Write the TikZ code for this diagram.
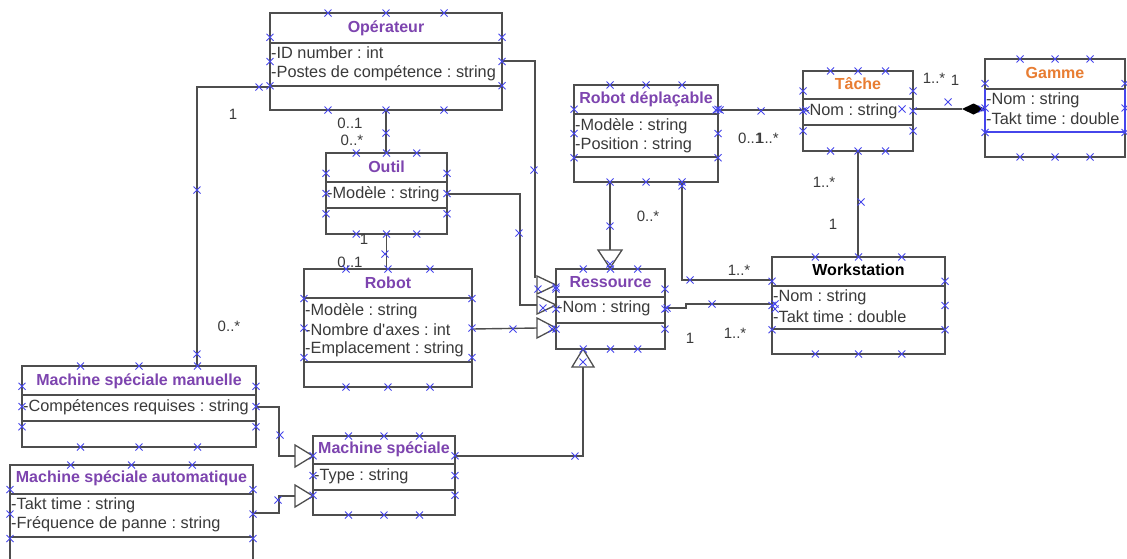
\documentclass[tikz,border=0pt]{standalone}
\usepackage{fontspec}
\setmainfont{Liberation Sans}
\definecolor{lc}{RGB}{78,78,78}
\definecolor{tc}{RGB}{58,58,58}
\definecolor{purp}{RGB}{125,68,175}
\definecolor{orng}{RGB}{232,125,50}
\definecolor{hb}{RGB}{70,70,235}
\tikzset{
  cbox/.style={draw=lc, line width=1.5pt, fill=white, rectangle, inner sep=0pt, outer sep=0pt},
  cline/.style={draw=lc, line width=1.5pt},
  conn/.style={draw=lc, line width=1.4pt},
  tri/.style={draw=lc, line width=1.3pt, fill=white},
  ttl/.style={font=\bfseries\fontsize{16}{18}\selectfont, text=purp, inner sep=0pt},
  attr/.style={font=\fontsize{16.3}{18}\selectfont, text=tc, anchor=west, inner sep=0pt},
  lbl/.style={font=\fontsize{15}{17}\selectfont, text=tc, inner sep=0pt},
  hx/.pic={\draw[hb, line width=0.85pt] (-3.5pt,-3.5pt) -- (3.5pt,3.5pt) (-3.5pt,3.5pt) -- (3.5pt,-3.5pt);}
}
\newcommand{\umlclass}[7]{%
  \node[cbox, minimum width={(#4-#2)*1pt}, minimum height={(#5-#3)*1pt}] (#1) at ({(#2+#4)/2},{(#3+#5)/2}) {};
  \draw[cline] (#2,#6) -- (#4,#6) (#2,#7) -- (#4,#7);
}
\newcommand{\boxhandles}[4]{%
  \foreach \f in {0.25,0.5,0.75} {
    \pic at ({#1+(#3-#1)*\f},#2) {hx};
    \pic at ({#1+(#3-#1)*\f},#4) {hx};
    \pic at (#1,{#2+(#4-#2)*\f}) {hx};
    \pic at (#3,{#2+(#4-#2)*\f}) {hx};
  }
}
\begin{document}
\frenchspacing
\begin{tikzpicture}[x=1pt,y=-1pt]
\useasboundingbox (0,0) rectangle (1127,558);
\fill[white] (0,0) rectangle (1127,558);

% ---------- classes ----------
\umlclass{op}{270}{13}{502}{110}{43}{86}
\umlclass{outil}{326}{153}{447}{234}{182}{208}
\umlclass{robot}{304}{269}{472}{387}{298}{362}
\umlclass{rd}{574}{85}{718}{182}{114}{157}
\umlclass{tache}{803}{71}{913}{151}{99}{125}
\umlclass{gamme}{985}{59}{1125}{157}{89}{132}
\umlclass{res}{556}{269}{665}{349}{297}{323}
\umlclass{ws}{772}{257}{945}{354}{286}{329}
\umlclass{msm}{22}{366}{256}{447}{395}{421}
\umlclass{msa}{10}{465}{253}{563}{494}{537}
\umlclass{ms}{313}{436}{455}{515}{464}{490}
\draw[hb, line width=1.1pt] (985,89) -- (985,132) -- (1125,132) -- (1125,89);

% ---------- texts ----------
\node[ttl] (op-t) at (386,28) {Opérateur};
\node[attr] (op-a1) at (271,53) {-ID number : int};
\node[attr] (op-a2) at (271,73) {-Postes de compétence : string};

\node[ttl] (outil-t) at (386.5,167) {Outil};
\node[attr] (outil-a1) at (327,194) {-Modèle : string};

\node[ttl] (robot-t) at (388,283) {Robot};
\node[attr] (robot-a1) at (305,311) {-Modèle : string};
\node[attr] (robot-a2) at (305,330) {-Nombre d\textquotesingle axes : int};
\node[attr] (robot-a3) at (305,349) {-Emplacement : string};

\node[ttl] (rd-t) at (646,99) {Robot déplaçable};
\node[attr] (rd-a1) at (575,126) {-Modèle : string};
\node[attr] (rd-a2) at (575,145) {-Position : string};

\node[ttl, text=orng] (tache-t) at (858,84) {Tâche};
\node[attr] (tache-a1) at (804,111) {-Nom : string};

\node[ttl, text=orng] (gamme-t) at (1055,73) {Gamme};
\node[attr] (gamme-a1) at (986,100) {-Nom : string};
\node[attr] (gamme-a2) at (986,119) {-Takt time : double};

\node[ttl] (res-t) at (610.5,282) {Ressource};
\node[attr] (res-a1) at (557,308) {-Nom : string};

\node[ttl, text=black] (ws-t) at (858.5,270) {Workstation};
\node[attr] (ws-a1) at (773,297) {-Nom : string};
\node[attr] (ws-a2) at (773,317) {-Takt time : double};

\node[ttl] (msm-t) at (139,381) {Machine spéciale manuelle};
\node[attr] (msm-a1) at (23,407) {-Compétences requises : string};

\node[ttl] (msa-t) at (131.5,478) {Machine spéciale automatique};
\node[attr] (msa-a1) at (11,505) {-Takt time : string};
\node[attr] (msa-a2) at (11,524) {-Fréquence de panne : string};

\node[ttl] (ms-t) at (384,449) {Machine spéciale};
\node[attr] (ms-a1) at (314,476) {-Type : string};

% ---------- connector end coordinates ----------
\coordinate (tb1) at (537,285);
\coordinate (tb2) at (537,305);
\coordinate (tb3) at (537,328);
\coordinate (tbtop) at (610,250);
\coordinate (tbbot) at (583,367);
\coordinate (tbm1) at (295,456);
\coordinate (tbm2) at (295,496);
\coordinate (dm) at (962,109);

% ---------- connectors ----------
\draw[conn] (op.west |- 0,87) -| (197,0 |- msm.north);
\draw[conn] (op.east |- 0,61) -| (535,278);
\draw[conn] (outil.east |- 0,194) -| (520,305) -- (tb2);
\draw[conn] (robot.east |- 0,329) -- (tb3);
\draw[conn] (op.south) -- (op.south |- outil.north);
\draw[conn] (outil.south) -- (outil.south |- robot.north);
\draw[conn] (610,0 |- rd.south) -- (tbtop);
\draw[conn] (682,0 |- rd.south) |- (ws.west |- 0,280);
\draw[conn] (rd.east |- 0,110) -- (tache.west |- 0,110);
\draw[conn] (tache.east |- 0,109) -- (dm);
\draw[conn] (tache.south) -- (tache.south |- ws.north);
\draw[conn] (res.east |- 0,308) -- (686,308) -- (686,304) -- (ws.west |- 0,304);
\draw[conn] (ms.east |- 0,456) -| (tbbot);
\draw[conn] (msm.east |- 0,407) -| (279,456) -- (tbm1);
\draw[conn] (msa.east |- 0,513) -| (279,496) -- (tbm2);

% ---------- arrow heads ----------
\draw[tri] (tb1) ++(0,-9) -- ++(0,18) -- ++(19,-9) -- cycle;
\draw[tri] (tb2) ++(0,-9) -- ++(0,18) -- ++(19,-9) -- cycle;
\draw[tri] (tb3) ++(0,-10) -- ++(0,20) -- ++(19,-10) -- cycle;
\draw[tri] (tbtop) ++(-12,0) -- ++(24,0) -- ++(-12,18) -- cycle;
\draw[tri] (tbbot) ++(-11,0) -- ++(22,0) -- ++(-11,-18) -- cycle;
\draw[tri] (tbm1) ++(0,-11) -- ++(0,22) -- ++(18,-11) -- cycle;
\draw[tri] (tbm2) ++(0,-11) -- ++(0,22) -- ++(18,-11) -- cycle;
\fill[black] (dm) -- ++(11.5,-5.5) -- ++(11.5,5.5) -- ++(-11.5,5.5) -- cycle;

% ---------- multiplicities ----------
\node[lbl] (l1) at (233,114) {1};
\node[lbl] (l2) at (229,326) {0..*};
\node[lbl] (l3) at (350,123) {0..1};
\node[lbl] (l4) at (352,140) {0..*};
\node[lbl] (l5) at (364,239) {1};
\node[lbl] (l6) at (350,262) {0..1};
\node[lbl] (l7) at (648,216) {0..*};
\node[lbl] (l8) at (739,270) {1..*};
\node[lbl, anchor=west] (l9) at (738,138) {0..1};
\node[lbl, anchor=west] (l10) at (756,138) {1..*};
\node[lbl] (l11) at (934,78) {1..*};
\node[lbl] (l12) at (955,80) {1};
\node[lbl] (l13) at (824,182) {1..*};
\node[lbl] (l14) at (833,224) {1};
\node[lbl] (l15) at (690,338) {1};
\node[lbl] (l16) at (735,333) {1..*};

% ---------- selection handles ----------
\boxhandles{270}{13}{502}{110}
\boxhandles{326}{153}{447}{234}
\boxhandles{304}{269}{472}{387}
\boxhandles{574}{85}{718}{182}
\boxhandles{803}{71}{913}{151}
\boxhandles{985}{59}{1125}{157}
\boxhandles{556}{269}{665}{349}
\boxhandles{772}{257}{945}{354}
\boxhandles{22}{366}{256}{447}
\boxhandles{10}{465}{253}{563}
\boxhandles{313}{436}{455}{515}
\foreach \p in {(259,87),(197,190),(197,354),(534,170),(386,133),(385,254),
  (519,233),(513,329),(538,289),(543,308),(552,329),(556,287),
  (610,226),(610,264),(682,186),(690,280),(761,111),(716,110),(720,110),(806,110),
  (948,102),(902,109),(982,109),(861,202),(667,308),(712,304),(775,304),(775,309),
  (575,456),(583,362),(280,435),(278,500)}
  \pic at \p {hx};
\end{tikzpicture}
\end{document}
